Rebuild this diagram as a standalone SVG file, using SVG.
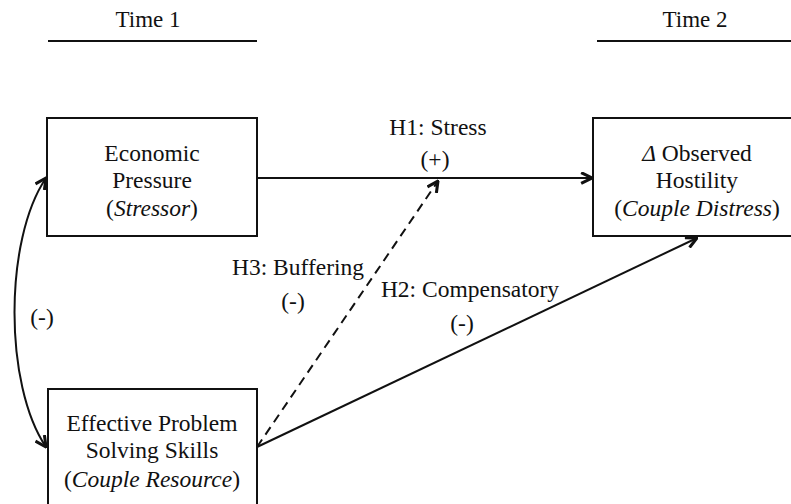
<svg xmlns="http://www.w3.org/2000/svg" width="791" height="504" viewBox="0 0 791 504">
<style>
text{font-family:'Liberation Serif','Times New Roman',serif;font-size:23.5px;fill:#111;text-anchor:middle}
.tm{font-size:23px}
.box{fill:#fff;stroke:#111;stroke-width:2}
.ln{fill:none;stroke:#111;stroke-width:2}
.dash{stroke-dasharray:9,6}
.it{font-style:italic}
</style>
<defs>
<marker id="ah" viewBox="0 0 12 12" refX="11" refY="6" markerWidth="13" markerHeight="13" markerUnits="userSpaceOnUse" orient="auto-start-reverse">
<path d="M1,1 L11,6 L1,11" fill="none" stroke="#111" stroke-width="2.8"/>
</marker>
</defs>
<rect width="791" height="504" fill="#fff"/>
<g id="time1">
<text class="tm" x="148" y="27">Time 1</text>
<line x1="48" y1="41" x2="257" y2="41" stroke="#111" stroke-width="2"/>
</g>
<g id="time2">
<text class="tm" x="695" y="27">Time 2</text>
<line x1="597" y1="41" x2="791" y2="41" stroke="#111" stroke-width="2"/>
</g>
<g id="connectors">
<path class="ln" d="M257,178 L592,178" marker-end="url(#ah)"/>
<path class="ln dash" d="M257,447 L438,181" marker-end="url(#ah)"/>
<path class="ln" d="M257,447 L697,238" marker-end="url(#ah)"/>
<path class="ln" d="M46,178 C4,240 4,385 46,447" marker-start="url(#ah)" marker-end="url(#ah)"/>
</g>
<g id="n-econ">
<rect class="box" x="47" y="118" width="210" height="118"/>
<text x="152" y="161">Economic</text>
<text x="152" y="188">Pressure</text>
<text x="152" y="216">(<tspan class="it">Stressor</tspan>)</text>
</g>
<g id="n-hostility">
<rect class="box" x="593" y="118" width="210" height="118"/>
<text x="697" y="161"><tspan class="it">Δ</tspan> Observed</text>
<text x="697" y="188">Hostility</text>
<text x="697" y="216">(<tspan class="it">Couple Distress</tspan>)</text>
</g>
<g id="n-skills">
<rect class="box" x="48" y="389" width="209" height="125"/>
<text x="152" y="431">Effective Problem</text>
<text x="152" y="458">Solving Skills</text>
<text x="152" y="487">(<tspan class="it">Couple Resource</tspan>)</text>
</g>
<g id="labels">
<text x="438" y="135">H1: Stress</text>
<text x="435" y="167">(+)</text>
<text x="298" y="275">H3: Buffering</text>
<text x="293" y="309">(-)</text>
<text x="470" y="297">H2: Compensatory</text>
<text x="462" y="331">(-)</text>
<text x="42" y="325">(-)</text>
</g>
</svg>
